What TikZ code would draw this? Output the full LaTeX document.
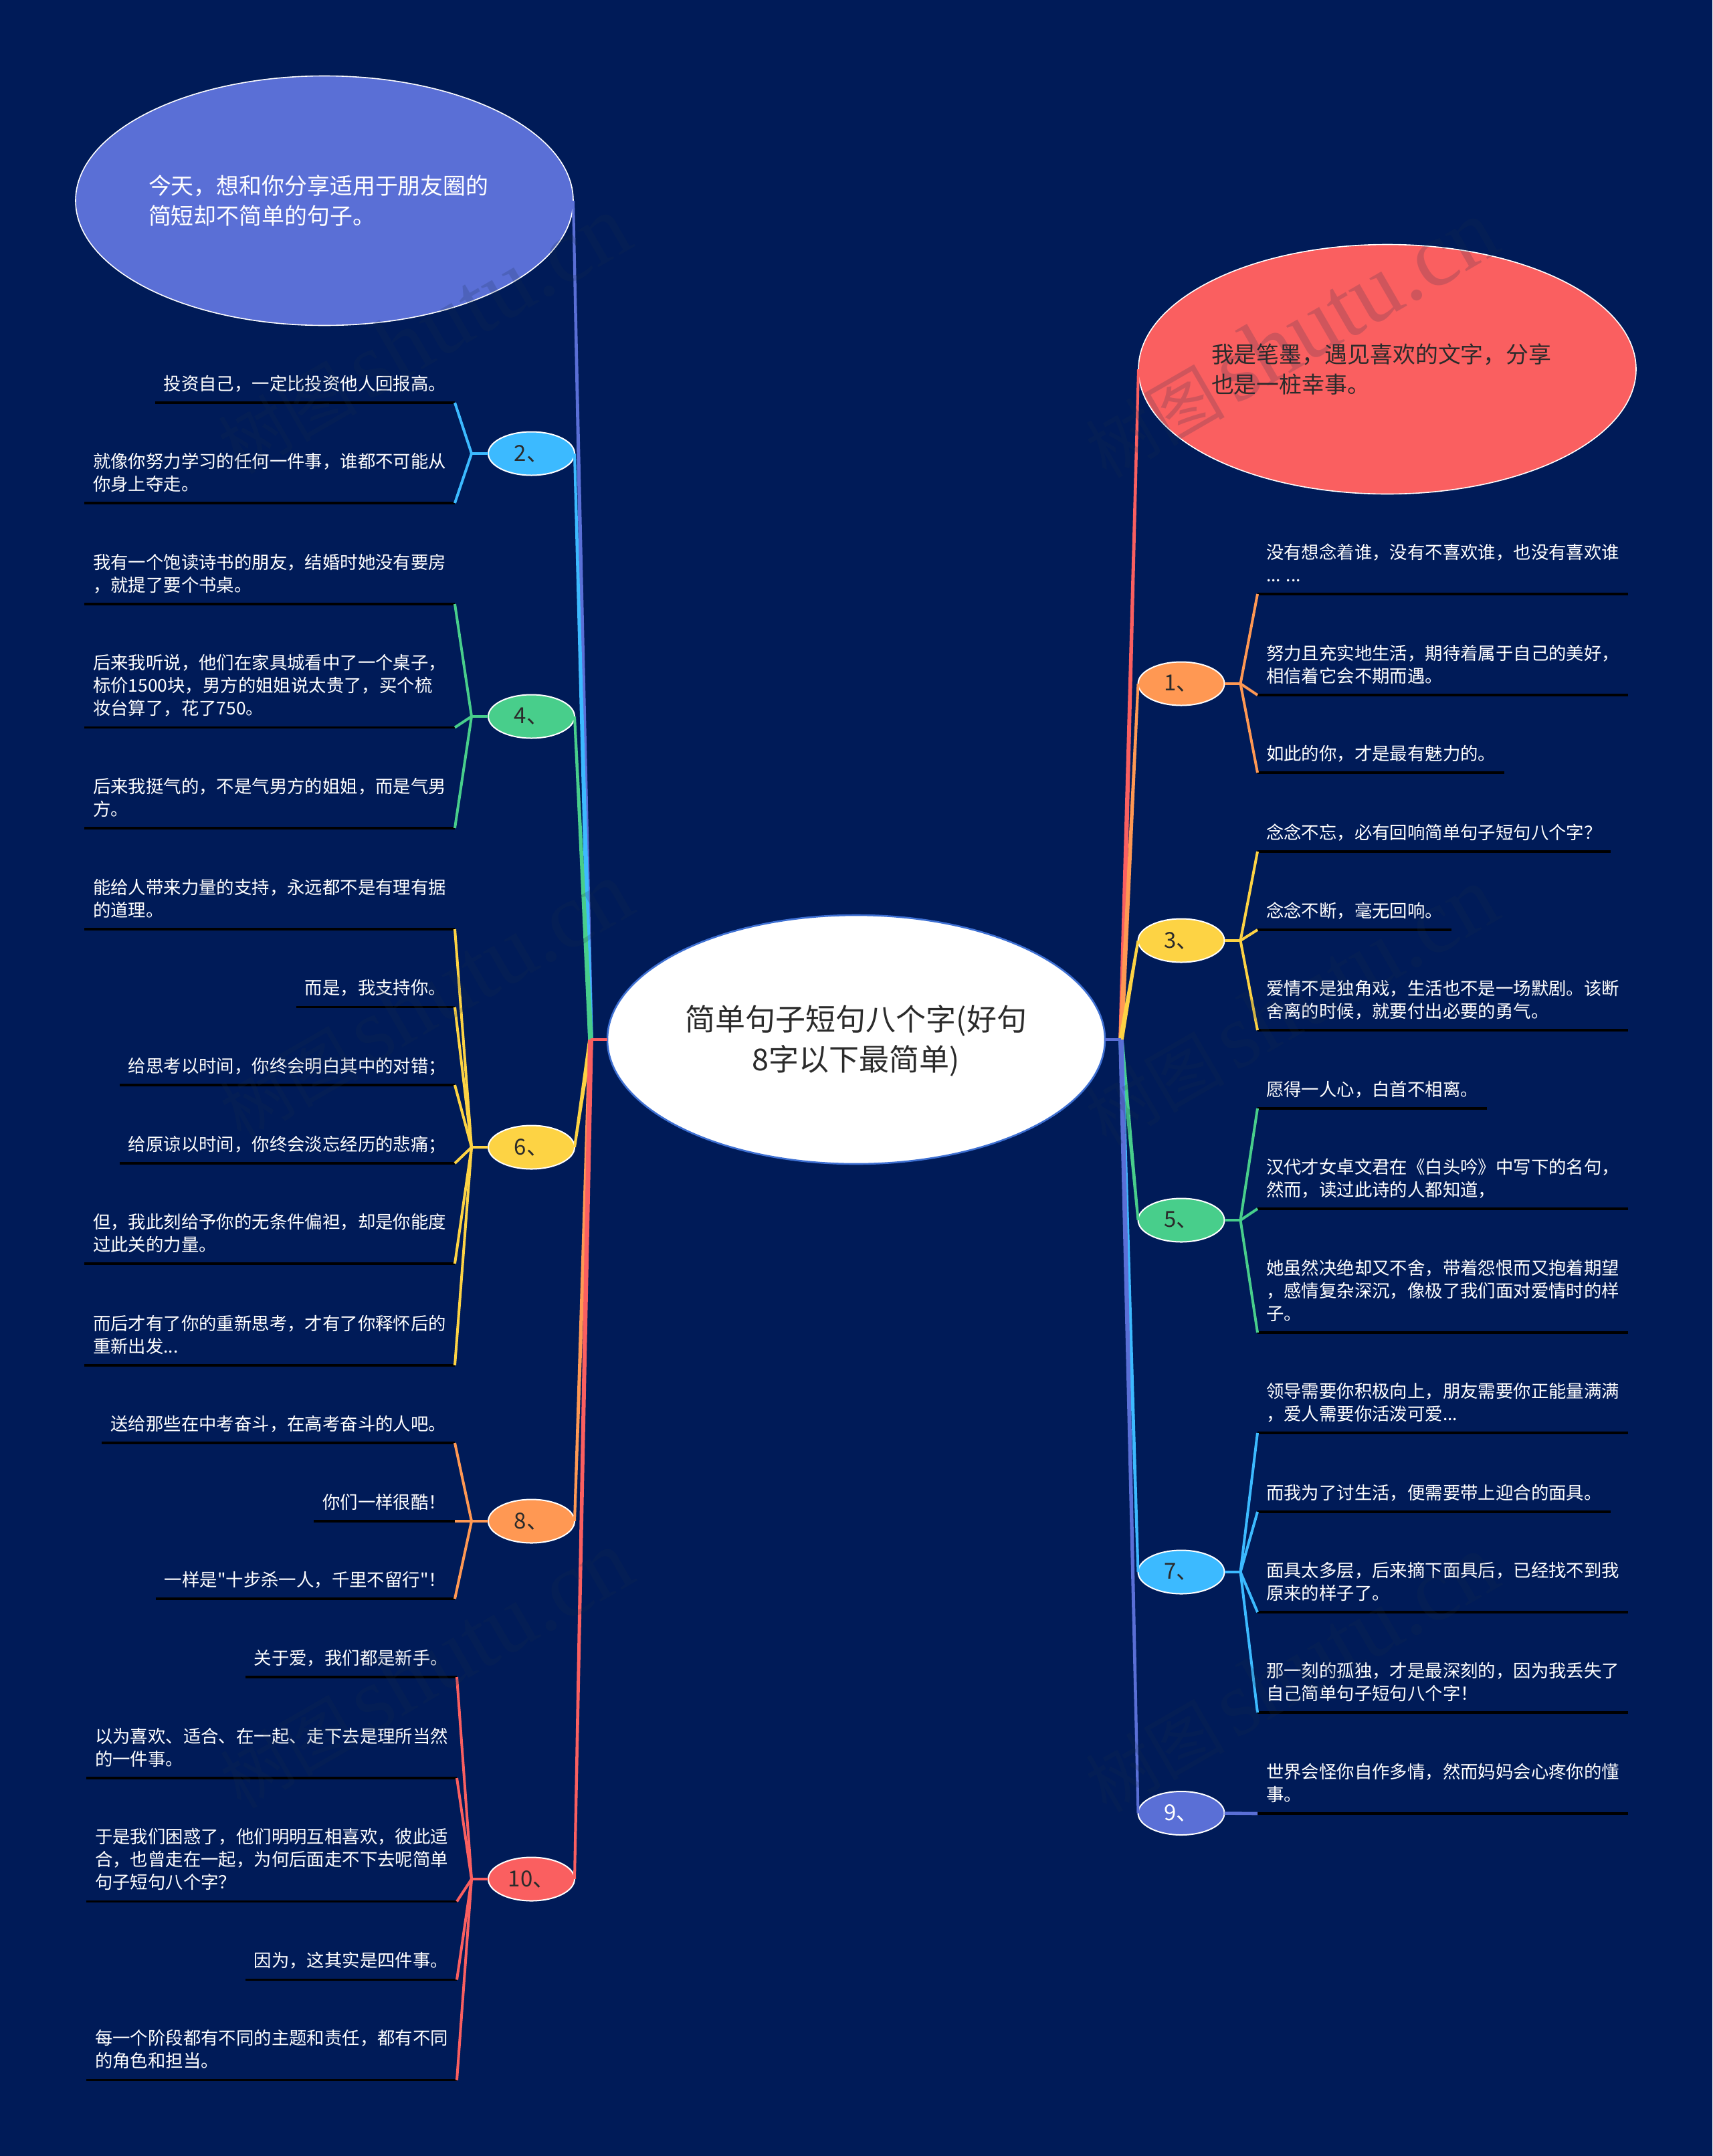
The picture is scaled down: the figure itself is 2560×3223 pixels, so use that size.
\documentclass[tikz,border=0pt]{standalone}
\usepackage{fontspec}
\setmainfont{Noto Sans CJK SC}[Ligatures=TeXOff]
\newfontfamily\wmlatin{Liberation Serif}
\usetikzlibrary{shapes.geometric,calc}
\definecolor{bgnavy}{HTML}{001B58}
\definecolor{cred}{HTML}{FA5F60}
\definecolor{corange}{HTML}{FF9853}
\definecolor{cyellow}{HTML}{FDD344}
\definecolor{cgreen}{HTML}{48CE8B}
\definecolor{csky}{HTML}{3CBAFF}
\definecolor{cblue}{HTML}{5A6FD6}
\definecolor{cedge}{HTML}{3D6FD2}
\definecolor{inkdark}{HTML}{2B2B2B}
\definecolor{wmark}{RGB}{25,45,75}
\tikzset{
  leaf/.style={inner xsep=6.5pt,inner ysep=0pt,outer sep=0pt,text=white,align=left,text depth=9.5pt,
    font=\fontsize{13.2pt}{17pt}\selectfont},
  leafL/.style={leaf,anchor=south east},
  leafR/.style={leaf,anchor=south west},
  rulebar/.style={draw=black,line width=1.9pt},
  twig/.style={line width=2pt},
  stub/.style={line width=2.3pt},
  numnode/.style={ellipse,draw=white,line width=1pt,inner sep=0pt,outer sep=0pt,minimum width=64.5pt,minimum height=32.5pt,
    text=inkdark,font=\fontsize{16.5pt}{20pt}\selectfont},
  bigbubble/.style={ellipse,draw=white,line width=0.8pt,inner sep=0pt,outer sep=0pt,minimum width=372pt,minimum height=186.5pt,
    text width=263pt,align=left,font=\fontsize{16.95pt}{22.5pt}\selectfont},
  rootnode/.style={ellipse,fill=white,draw=cedge,line width=1.3pt,inner sep=0pt,outer sep=0pt,minimum width=372pt,minimum height=186pt,
    text=inkdark,align=center,font=\fontsize{22.5pt}{30pt}\selectfont},
  wm/.style={anchor=west,rotate=30,text=wmark,text opacity=0.19,inner sep=0pt,font=\fontsize{52pt}{60pt}\selectfont},
}
\newcommand{\wmtext}{树图\hspace{7.5pt}{\wmlatin\fontsize{69pt}{69pt}\selectfont shutu.cn}}
% tapered trunk from a hub to a node anchor
\newcommand{\trk}[3]{\fill[#1] ($(#2)+(-3.8,0)$) -- ($(#2)+(3.8,0)$) -- ($(#3)+(2,0)$) -- ($(#3)+(-2,0)$) -- cycle;}
\newcommand{\lL}[6][680]{%
  \node[leafL] (#2) at (#1,#3) {#6};
  \draw[rulebar] (#2.south west) -- (#2.south east);
  \draw[twig,#5] (#4) -- (#2.south east);
}
\newcommand{\lR}[5]{%
  \node[leafR] (#1) at (1880,#2) {#5};
  \draw[rulebar] (#1.south west) -- (#1.south east);
  \draw[twig,#4] (#3) -- (#1.south west);
}
\begin{document}
\begin{tikzpicture}[x=0.5pt,y=-0.5pt]
\useasboundingbox (0,0) rectangle (2560,3223);
\fill[bgnavy] (0,0) rectangle (2560,3223);

% root and top bubbles
\node[rootnode] (root) at (1280,1554) {\rule{0pt}{21pt}简单句子短句八个字(好句\\8字以下最简单)};
\node[bigbubble,fill=cblue,text=white] (topL) at (485,300) {今天，想和你分享适用于朋友圈的\\简短却不简单的句子。};
\node[bigbubble,fill=cred,text=inkdark] (topR) at (2074,552) {我是笔墨，遇见喜欢的文字，分享\\也是一桩幸事。};

% numbered nodes
\node[numnode,fill=csky] (n2) at (794.5,678) {2、};
\node[numnode,fill=cgreen] (n4) at (794.5,1071) {4、};
\node[numnode,fill=cyellow] (n6) at (794.5,1715) {6、};
\node[numnode,fill=corange] (n8) at (794.5,2274) {8、};
\node[numnode,fill=cred] (n10) at (794.5,2809) {10、};
\node[numnode,fill=corange] (n1) at (1766,1022) {1、};
\node[numnode,fill=cyellow] (n3) at (1766,1406) {3、};
\node[numnode,fill=cgreen] (n5) at (1766,1824) {5、};
\node[numnode,fill=csky] (n7) at (1766,2350) {7、};
\node[numnode,fill=cblue,text=white] (n9) at (1766,2710.5) {9、};

% trunks
\coordinate (hubL) at ($(root.west)+(-25,0)$);
\coordinate (hubR) at ($(root.east)+(24,0)$);
\trk{cblue}{hubL}{topL.east}
\trk{csky}{hubL}{n2.east}
\trk{cgreen}{hubL}{n4.east}
\trk{cyellow}{hubL}{n6.east}
\trk{corange}{hubL}{n8.east}
\trk{cred}{hubL}{n10.east}
\draw[stub,cred] (hubL) -- (root.west);
\trk{cred}{hubR}{topR.west}
\trk{corange}{hubR}{n1.west}
\trk{cyellow}{hubR}{n3.west}
\trk{cgreen}{hubR}{n5.west}
\trk{csky}{hubR}{n7.west}
\trk{cblue}{hubR}{n9.west}
\draw[stub,cblue] (hubR) -- (root.east);

% branch points
\foreach \n/\c in {n2/csky,n4/cgreen,n6/cyellow,n8/corange,n10/cred}{
  \coordinate (b\n) at ($(\n.west)+(-25,0)$);
  \draw[stub,\c] (\n.west) -- (b\n);
}
\foreach \n/\c in {n1/corange,n3/cyellow,n5/cgreen,n7/csky}{
  \coordinate (b\n) at ($(\n.east)+(24,0)$);
  \draw[stub,\c] (\n.east) -- (b\n);
}

\lL{a1}{602}{bn2}{csky}{投资自己，一定比投资他人回报高。}
\lL{a2}{752}{bn2}{csky}{就像你努力学习的任何一件事，谁都不可能从\\你身上夺走。}

\lL{b1}{903}{bn4}{cgreen}{我有一个饱读诗书的朋友，结婚时她没有要房\\，就提了要个书桌。}
\lL{b2}{1087.5}{bn4}{cgreen}{后来我听说，他们在家具城看中了一个桌子，\\标价1500块，男方的姐姐说太贵了，买个梳\\妆台算了，花了750。}
\lL{b3}{1238}{bn4}{cgreen}{后来我挺气的，不是气男方的姐姐，而是气男\\方。}

\lL{c1}{1389}{bn6}{cyellow}{能给人带来力量的支持，永远都不是有理有据\\的道理。}
\lL{c2}{1505.5}{bn6}{cyellow}{而是，我支持你。}
\lL{c3}{1622}{bn6}{cyellow}{给思考以时间，你终会明白其中的对错；}
\lL{c4}{1739}{bn6}{cyellow}{给原谅以时间，你终会淡忘经历的悲痛；}
\lL{c5}{1889}{bn6}{cyellow}{但，我此刻给予你的无条件偏袒，却是你能度\\过此关的力量。}
\lL{c6}{2041}{bn6}{cyellow}{而后才有了你的重新思考，才有了你释怀后的\\重新出发...}

\lL{d1}{2157}{bn8}{corange}{送给那些在中考奋斗，在高考奋斗的人吧。}
\lL{d2}{2274}{bn8}{corange}{你们一样很酷！}
\lL{d3}{2390}{bn8}{corange}{一样是"十步杀一人，千里不留行"！}

\lL[683]{e1}{2507}{bn10}{cred}{关于爱，我们都是新手。}
\lL[683]{e2}{2658}{bn10}{cred}{以为喜欢、适合、在一起、走下去是理所当然\\的一件事。}
\lL[683]{e3}{2842.5}{bn10}{cred}{于是我们困惑了，他们明明互相喜欢，彼此适\\合，也曾走在一起，为何后面走不下去呢简单\\句子短句八个字？}
\lL[683]{e4}{2959.5}{bn10}{cred}{因为，这其实是四件事。}
\lL[683]{e5}{3109.5}{bn10}{cred}{每一个阶段都有不同的主题和责任，都有不同\\的角色和担当。}

\lR{f1}{888}{bn1}{corange}{没有想念着谁，没有不喜欢谁，也没有喜欢谁\\... ...}
\lR{f2}{1039}{bn1}{corange}{努力且充实地生活，期待着属于自己的美好，\\相信着它会不期而遇。}
\lR{f3}{1155}{bn1}{corange}{如此的你，才是最有魅力的。}

\lR{g1}{1273}{bn3}{cyellow}{念念不忘，必有回响简单句子短句八个字？}
\lR{g2}{1390}{bn3}{cyellow}{念念不断，毫无回响。}
\lR{g3}{1540}{bn3}{cyellow}{爱情不是独角戏，生活也不是一场默剧。该断\\舍离的时候，就要付出必要的勇气。}

\lR{h1}{1657}{bn5}{cgreen}{愿得一人心，白首不相离。}
\lR{h2}{1807}{bn5}{cgreen}{汉代才女卓文君在《白头吟》中写下的名句，\\然而，读过此诗的人都知道，}
\lR{h3}{1992}{bn5}{cgreen}{她虽然决绝却又不舍，带着怨恨而又抱着期望\\，感情复杂深沉，像极了我们面对爱情时的样\\子。}

\lR{i1}{2142}{bn7}{csky}{领导需要你积极向上，朋友需要你正能量满满\\，爱人需要你活泼可爱...}
\lR{i2}{2260}{bn7}{csky}{而我为了讨生活，便需要带上迎合的面具。}
\lR{i3}{2410}{bn7}{csky}{面具太多层，后来摘下面具后，已经找不到我\\原来的样子了。}
\lR{i4}{2560}{bn7}{csky}{那一刻的孤独，才是最深刻的，因为我丢失了\\自己简单句子短句八个字！}

\node[leafR] (j1) at (1880,2711) {世界会怪你自作多情，然而妈妈会心疼你的懂\\事。};
\draw[rulebar] (j1.south west) -- (j1.south east);
\draw[stub,cblue] (n9.east) -- (j1.south west);

% watermarks
\node[wm] (w1) at (335,673) {\wmtext};
\node[wm] (w2) at (338,1668) {\wmtext};
\node[wm] (w3) at (338,2668) {\wmtext};
\node[wm] (w4) at (1632,679) {\wmtext};
\node[wm] (w5) at (1632,1676) {\wmtext};
\node[wm] (w6) at (1632,2674) {\wmtext};
\end{tikzpicture}
\end{document}
